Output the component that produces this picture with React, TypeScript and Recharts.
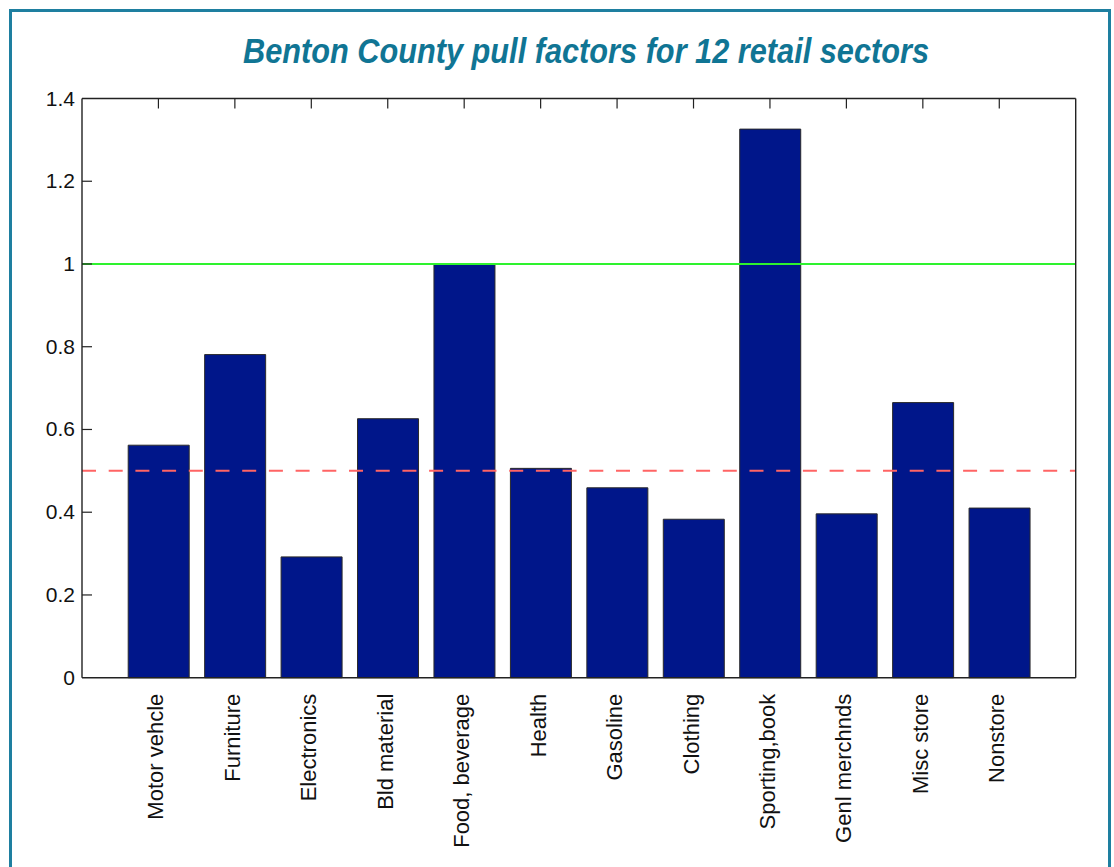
import React from 'react';
import { BarChart, Bar, XAxis, YAxis, ReferenceLine } from 'recharts';

const sectors = [
  'Motor vehcle',
  'Furniture',
  'Electronics',
  'Bld material',
  'Food, beverage',
  'Health',
  'Gasoline',
  'Clothing',
  'Sporting,book',
  'Genl merchnds',
  'Misc store',
  'Nonstore',
];
const pullFactors = [0.562, 0.781, 0.292, 0.626, 0.999, 0.506, 0.459, 0.383, 1.326, 0.396, 0.665, 0.41];
const yTicks = [0, 0.2, 0.4, 0.6, 0.8, 1, 1.2, 1.4];
const fullPullLevel = 1;
const halfPullLevel = 0.5;
const titleText = 'Benton County pull factors for 12 retail sectors';

const data = sectors.map((name, i) => ({ name, value: pullFactors[i] }));

const FONT = '"Liberation Sans", Arial, Helvetica, sans-serif';
const AXIS = '#222222';
const TICK_LEN = 10;
const LEFT_MARGIN = 7;

const CategoryTick = (props: any) => {
  const { x, y, payload } = props;
  return (
    <text
      x={x}
      y={y}
      dy={5}
      transform={`rotate(-90, ${x}, ${y})`}
      textAnchor="end"
      fontSize={22}
      fontFamily={FONT}
      fill="#111111"
    >
      {payload.value}
    </text>
  );
};

const LeftTick = (props: any) => {
  const { x, y, payload } = props;
  const axisX = x + LEFT_MARGIN;
  return (
    <g>
      {payload.value > 0 && payload.value < 1.4 && (
        <line x1={axisX} x2={axisX + TICK_LEN} y1={y} y2={y} stroke={AXIS} strokeWidth={1.2} />
      )}
      <text x={x} y={y} dy={7} textAnchor="end" fontSize={21} fontFamily={FONT} fill="#111111">
        {String(payload.value)}
      </text>
    </g>
  );
};

const RightTick = (props: any) => {
  const { x, y, payload } = props;
  if (!(payload.value > 0 && payload.value < 1.4)) return <g />;
  return <line x1={x - TICK_LEN} x2={x} y1={y} y2={y} stroke={AXIS} strokeWidth={1.2} />;
};

const blank = () => '';

export default function App() {
  return (
    <div style={{ position: 'absolute', left: 0, top: 0, width: 1114, height: 867, background: '#ffffff', overflow: 'hidden' }}>
      <div
        style={{
          position: 'absolute',
          left: 9,
          top: 9,
          width: 1102,
          height: 858,
          boxSizing: 'border-box',
          borderTop: '3px solid #1e7fa0',
          borderLeft: '3px solid #1e7fa0',
          borderRight: '3px solid #1e7fa0',
        }}
      />
      <svg style={{ position: 'absolute', left: 0, top: 0 }} width={1114} height={90}>
        <text
          x={243}
          y={63}
          textLength={686}
          lengthAdjust="spacingAndGlyphs"
          fontSize={35}
          fontWeight="bold"
          fontStyle="italic"
          fontFamily={FONT}
          fill="#107594"
        >
          {titleText}
        </text>
      </svg>
      <div style={{ position: 'absolute', left: 0, top: 0 }}>
        <BarChart
          width={1114}
          height={867}
          data={data}
          margin={{ top: 98.5, right: 37.3, bottom: 9.3, left: 0 }}
        >
          <XAxis
            xAxisId="b"
            dataKey="name"
            orientation="bottom"
            height={180}
            padding={{ left: 38.2, right: 38.2 }}
            interval={0}
            tickLine={false}
            tickSize={0}
            tickMargin={16}
            axisLine={{ stroke: AXIS, strokeWidth: 1.4 }}
            tick={<CategoryTick />}
          />
          <XAxis
            xAxisId="t"
            dataKey="name"
            orientation="top"
            mirror
            height={30}
            padding={{ left: 38.2, right: 38.2 }}
            interval={0}
            tickSize={TICK_LEN}
            tickLine={{ stroke: AXIS, strokeWidth: 1.2 }}
            axisLine={{ stroke: AXIS, strokeWidth: 1.4 }}
            tickFormatter={blank}
          />
          <YAxis
            yAxisId="l"
            orientation="left"
            width={82}
            domain={[0, 1.4]}
            ticks={yTicks}
            interval={0}
            tickLine={false}
            tickSize={0}
            tickMargin={LEFT_MARGIN}
            axisLine={{ stroke: AXIS, strokeWidth: 1.4 }}
            tick={<LeftTick />}
          />
          <YAxis
            yAxisId="r"
            orientation="right"
            width={1}
            domain={[0, 1.4]}
            ticks={yTicks}
            interval={0}
            tickLine={false}
            tickSize={0}
            tickMargin={0}
            axisLine={{ stroke: AXIS, strokeWidth: 1.4 }}
            tick={<RightTick />}
          />
          <Bar
            xAxisId="b"
            yAxisId="l"
            dataKey="value"
            barSize={61}
            fill="#00168a"
            stroke="#2a2a2a"
            strokeWidth={1}
            isAnimationActive={false}
          />
          <ReferenceLine
            xAxisId="b"
            yAxisId="l"
            y={fullPullLevel}
            stroke="#2ef22e"
            strokeWidth={2}
          />
          <ReferenceLine
            xAxisId="b"
            yAxisId="l"
            y={halfPullLevel}
            stroke="#ff6464"
            strokeWidth={2}
            strokeDasharray="14 12.7"
          />
        </BarChart>
      </div>
    </div>
  );
}
